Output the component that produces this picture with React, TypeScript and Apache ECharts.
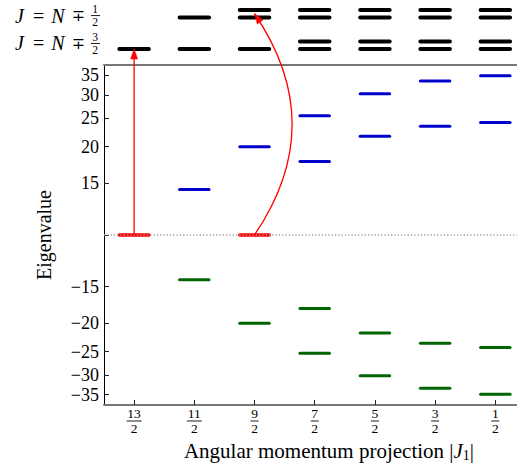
import React, { useEffect, useRef } from "react";
import * as echarts from "echarts";

// ---------- data ----------
const categories = ["13/2", "11/2", "9/2", "7/2", "5/2", "3/2", "1/2"];
const blueLevels: number[][] = [[], [14.3], [20.0], [25.5, 17.8], [30.3, 21.7], [33.5, 23.5], [34.9, 24.2]];
const greenLevels: number[][] = [[], [-14.2], [-20.0], [-17.8, -25.3], [-21.6, -30.2], [-23.4, -33.3], [-24.2, -34.9]];
const redLevels: number[][] = [[0], [], [0], [], [], [], []];
// levels of the upper (J = N ∓ ...) panel, in panel units
const blackLevels: number[][] = [
  [1],
  [1, 5.2],
  [1, 5.2, 6.2],
  [1, 2, 5.2, 6.2],
  [1, 2, 5.2, 6.2],
  [1, 2, 5.2, 6.2],
  [1, 2, 5.2, 6.2],
];
const yTickValues = [35, 30, 25, 20, 15, 0, -15, -20, -25, -30, -35];
const yLimit = 38;
const rowFractions = ["1/2", "3/2"];
const rowLabelLevels = [5.45, 1.75];
const topRange = [-1.13, 7.53];
const transitions = [
  { col: 0, from: 0, toLevel: 1, curved: false },
  { col: 2, from: 0, toLevel: 5.7, curved: true },
];

// ---------- helpers ----------
const LIN = 10;
const sym = (v: number) => (v === 0 ? 0 : Math.sign(v) * Math.log(Math.max(Math.abs(v), LIN) / LIN));
const unsym = (t: number) => (Math.abs(t) < 1e-9 ? 0 : Math.sign(t) * LIN * Math.exp(Math.abs(t)));

const FONT = '"Liberation Serif", "DejaVu Serif", serif';
const BAR_HALF = 0.245;
const X_MIN = -0.5;
const X_MAX = 6.36;
const colIdx = categories.map((_, i) => i);

const toData = (levels: number[][], f: (v: number) => number) =>
  levels.flatMap((vals, i) => vals.map((v) => [i, f(v)]));

const levelSeries = (data: number[][], color: string, width: number, xi: number, yi: number, extra: any = {}) => ({
  type: "custom",
  xAxisIndex: xi,
  yAxisIndex: yi,
  data,
  silent: true,
  z: 3,
  renderItem: (params: any, api: any) => {
    const c = api.value(0);
    const v = api.value(1);
    const a = api.coord([c - BAR_HALF, v]);
    const b = api.coord([c + BAR_HALF, v]);
    return {
      type: "line",
      shape: { x1: a[0], y1: a[1], x2: b[0], y2: b[1] },
      style: { stroke: color, lineWidth: width, lineCap: "round" },
    };
  },
  ...extra,
});

export default function App() {
  const ref = useRef<HTMLDivElement>(null);

  useEffect(() => {
    if (!ref.current) return;
    const chart = echarts.init(ref.current, null, { renderer: "svg" });
    const yLim = sym(yLimit);

    const option: any = {
      animation: false,
      textStyle: { fontFamily: FONT },
      grid: [
        { left: 104, right: 0, top: 65, bottom: 64 },
        { left: 104, right: 0, top: 0, height: 65 },
      ],
      xAxis: [
        {
          gridIndex: 0,
          type: "value",
          min: X_MIN,
          max: X_MAX,
          position: "bottom",
          axisLine: { onZero: false, lineStyle: { color: "#777", width: 2 } },
          axisTick: { inside: true, length: 5, customValues: colIdx, lineStyle: { color: "#222", width: 1 } },
          axisLabel: {
            customValues: colIdx,
            margin: 3,
            color: "#000",
            formatter: (v: number) => {
              const [n, d] = categories[Math.round(v)].split("/");
              return `{n|${n}}\n{${n.length > 1 ? "b2" : "b1"}|}\n{n|${d}}`;
            },
            rich: {
              n: { fontSize: 13.5, lineHeight: 11, fontFamily: FONT, color: "#000" },
              b1: { width: 8, height: 0.9, backgroundColor: "#000", lineHeight: 4 },
              b2: { width: 15, height: 0.9, backgroundColor: "#000", lineHeight: 4 },
            },
          },
          splitLine: { show: false },
          name: "{t|Angular momentum projection |}{i|J}{s|1}{t||}",
          nameLocation: "middle",
          nameGap: 27,
          nameTextStyle: {
            padding: [0, 0, 0, 37],
            rich: {
              t: { fontSize: 21, fontFamily: FONT, color: "#000" },
              i: { fontSize: 21, fontFamily: FONT, fontStyle: "italic", color: "#000" },
              s: { fontSize: 14, fontFamily: FONT, color: "#000", padding: [9, 0, 0, 0] },
            },
          },
        },
        {
          gridIndex: 0,
          type: "value",
          min: X_MIN,
          max: X_MAX,
          position: "top",
          axisLine: { onZero: false, lineStyle: { color: "#777", width: 2 } },
          axisTick: { show: false },
          axisLabel: { show: false },
          splitLine: { show: false },
        },
        { gridIndex: 1, type: "value", min: X_MIN, max: X_MAX, show: false },
      ],
      yAxis: [
        {
          gridIndex: 0,
          type: "value",
          min: -yLim,
          max: yLim,
          axisLine: { show: true, onZero: false, lineStyle: { color: "#000", width: 1 } },
          axisTick: {
            show: true,
            inside: true,
            length: 5,
            customValues: yTickValues.map(sym),
            lineStyle: { color: "#222", width: 1 },
          },
          axisLabel: {
            customValues: yTickValues.map(sym),
            margin: 5,
            color: "#000",
            fontSize: 18,
            fontFamily: FONT,
            formatter: (t: number) => {
              const v = Math.round(unsym(t));
              if (v === 0) return "";
              return v < 0 ? "\u2212" + -v : String(v);
            },
          },
          splitLine: { show: false },
          name: "Eigenvalue",
          nameLocation: "middle",
          nameGap: 50,
          nameTextStyle: { fontSize: 20, fontFamily: FONT, color: "#000" },
        },
        {
          gridIndex: 1,
          type: "value",
          min: topRange[0],
          max: topRange[1],
          axisLine: { show: false, onZero: false },
          axisTick: { show: false },
          splitLine: { show: false },
          axisLabel: {
            customValues: rowLabelLevels,
            margin: 4,
            color: "#000",
            formatter: (v: number) => {
              let idx = 0;
              rowLabelLevels.forEach((l, i) => {
                if (Math.abs(l - v) < Math.abs(rowLabelLevels[idx] - v)) idx = i;
              });
              const [n, d] = rowFractions[idx].split("/");
              return `{n|${n}}\n{i|J}{g1|}{m|=}{g2|}{i|N}{g2|}{p|\u2213}{g3|}{b|}\n{n|${d}}`;
            },
            rich: {
              n: { fontSize: 11.5, lineHeight: 9.5, align: "right", padding: [0, 2, 0, 0], fontFamily: FONT, color: "#000" },
              i: { fontSize: 20, lineHeight: 4, align: "right", fontStyle: "italic", fontFamily: FONT, color: "#000" },
              m: { fontSize: 20, lineHeight: 4, align: "right", fontFamily: FONT, color: "#000" },
              p: { fontSize: 16, lineHeight: 4, align: "right", fontFamily: '"DejaVu Serif", serif', color: "#000" },
              g1: { width: 9, height: 1, lineHeight: 4, align: "right" },
              g2: { width: 7, height: 1, lineHeight: 4, align: "right" },
              g3: { width: 6, height: 1, lineHeight: 4, align: "right" },
              b: { width: 9, height: 0.9, backgroundColor: "#000", lineHeight: 4, align: "right" },
            },
          },
        },
      ],
      series: [
        levelSeries(toData(redLevels, sym), "#ff0000", 3.5, 0, 0, {
          markLine: {
            silent: true,
            symbol: ["none", "none"],
            label: { show: false },
            lineStyle: { type: [1.2, 2.1], color: "#999", width: 1.5 },
            data: [{ yAxis: 0 }],
          },
        }),
        levelSeries(toData(blueLevels, sym), "#0000cc", 3, 0, 0),
        levelSeries(toData(greenLevels, sym), "#006400", 3, 0, 0),
        levelSeries(toData(blackLevels, (v) => v), "#000000", 4, 2, 1),
      ],
    };
    chart.setOption(option);

    // arrows (positions obtained from the axes)
    const els: any[] = [];
    const HEAD_LEN = 10;
    const HEAD_HALF = 3.5;
    transitions.forEach((tr) => {
      const p0 = chart.convertToPixel({ xAxisIndex: 0, yAxisIndex: 0 } as any, [tr.col, sym(tr.from)]) as number[];
      const p2 = chart.convertToPixel({ xAxisIndex: 2, yAxisIndex: 1 } as any, [tr.col, tr.toLevel]) as number[];
      let ux: number, uy: number;
      if (tr.curved) {
        const dx = p2[0] - p0[0];
        const dy = p2[1] - p0[1];
        const rad = 0.34;
        const cx = (p0[0] + p2[0]) / 2 - rad * dy;
        const cy = (p0[1] + p2[1]) / 2 + rad * dx;
        els.push({
          type: "bezierCurve",
          z: 10,
          shape: { x1: p0[0], y1: p0[1], x2: p2[0], y2: p2[1], cpx1: cx, cpy1: cy },
          style: { stroke: "#ff0000", lineWidth: 1.3, fill: null },
        });
        const l = Math.hypot(p2[0] - cx, p2[1] - cy);
        ux = (p2[0] - cx) / l;
        uy = (p2[1] - cy) / l;
      } else {
        const l = Math.hypot(p2[0] - p0[0], p2[1] - p0[1]);
        ux = (p2[0] - p0[0]) / l;
        uy = (p2[1] - p0[1]) / l;
        els.push({
          type: "line",
          z: 10,
          shape: { x1: p0[0], y1: p0[1], x2: p2[0] - ux * 4, y2: p2[1] - uy * 4 },
          style: { stroke: "#ff0000", lineWidth: 1.3 },
        });
      }
      const bx = p2[0] - ux * HEAD_LEN;
      const by = p2[1] - uy * HEAD_LEN;
      els.push({
        type: "polygon",
        z: 11,
        shape: {
          points: [
            [p2[0], p2[1]],
            [bx - uy * HEAD_HALF, by + ux * HEAD_HALF],
            [bx + uy * HEAD_HALF, by - ux * HEAD_HALF],
          ],
        },
        style: { fill: "#ff0000", stroke: "#ff0000", lineWidth: 0.5 },
      });
    });
    chart.setOption({ graphic: els });

    return () => chart.dispose();
  }, []);

  return <div ref={ref} style={{ width: 517, height: 469, position: "absolute", left: 0, top: 0 }} />;
}
